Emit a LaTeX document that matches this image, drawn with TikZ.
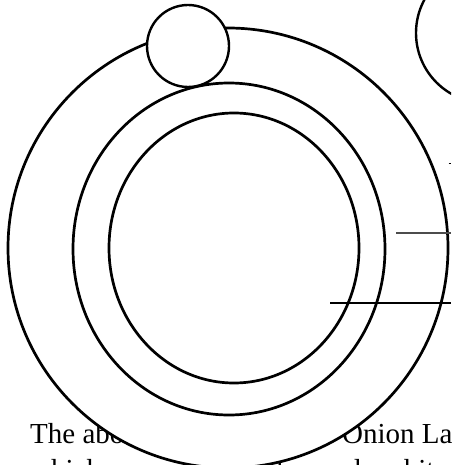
\documentclass[tikz,border=0pt]{standalone}
\usepackage{fontspec}
\setmainfont{Liberation Serif}
\usetikzlibrary{shapes.geometric}
\begin{document}
\begin{tikzpicture}[x=1pt,y=-1pt,
  ring/.style={draw=black, line width=2.7pt, fill=white, inner sep=0pt, outer sep=0pt},
  pointer/.style={line width=2pt},
  body/.style={anchor=base west, inner sep=0pt, font=\fontsize{29}{35}\selectfont}]
\useasboundingbox (0,0) rectangle (451,465);
\clip (0,0) rectangle (451,465);
% text behind the rings
\node[body] (t1) at (30,443) {The above diagram is the};
\node[body] (t2) at (342,443) {Onion Layers};
\node[body] (t3) at (30,479) {which represents the layered architecture};
% rings
\node[ring, circle, minimum size=440pt] (outer) at (228,248) {};
\node[ring, ellipse, minimum width=312pt, minimum height=332pt] (middle) at (229,249) {};
\node[ring, ellipse, minimum width=250pt, minimum height=270pt] (inner) at (234,248) {};
% top circles
\node[ring, circle, minimum size=82pt, line width=2.4pt] (small) at (188,46) {};
\node[ring, circle, minimum size=140pt, line width=2.4pt] (big) at (486,33) {};
% pointer lines
\coordinate (a1) at (396,233);
\coordinate (a2) at (451,233);
\coordinate (b1) at (330,303);
\coordinate (b2) at (451,303);
\coordinate (c1) at (448.5,163);
\coordinate (c2) at (451,163);
\draw[pointer, draw=black!70] (a1) -- (a2);
\draw[pointer] (b1) -- (b2);
\draw[line width=1pt] (c1) -- (c2);
\end{tikzpicture}
\end{document}
